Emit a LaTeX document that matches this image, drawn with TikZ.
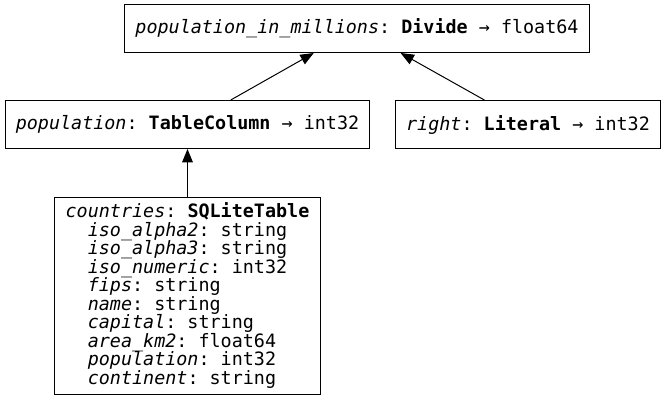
\documentclass[tikz,border=0pt]{standalone}
\usepackage{fontspec}
\setmonofont{DejaVu Sans Mono}
\usetikzlibrary{arrows.meta,positioning}

\tikzset{
  opbox/.style={draw, line width=0.75pt, inner xsep=8pt, minimum height=36pt,
    font=\ttfamily\fontsize{13.8}{13.9}\selectfont},
  dep/.style={-{Triangle[length=10pt,width=8pt]}, line width=0.75pt},
}
\newcommand{\ind}{\phantom{xx}}

\begin{document}
\begin{tikzpicture}[x=0.75pt, y=-0.75pt]
  \useasboundingbox (0,0) rectangle (667,400);
  \node[opbox] (divide) at (357,28.5)
       {\textit{population\_in\_millions}: \textbf{Divide} → float64};
  \node[opbox] (column) at (187.5,124.5)
       {\textit{population}: \textbf{TableColumn} → int32};
  \node[opbox] (literal) at (528,124.5)
       {\textit{right}: \textbf{Literal} → int32};
  \node[opbox, align=left, minimum height=147.75pt] (table) at (187.5,295.5)
       {\textit{countries}: \textbf{SQLiteTable}\\
        \ind\textit{iso\_alpha2}: string\\
        \ind\textit{iso\_alpha3}: string\\
        \ind\textit{iso\_numeric}: int32\\
        \ind\textit{fips}: string\\
        \ind\textit{name}: string\\
        \ind\textit{capital}: string\\
        \ind\textit{area\_km2}: float64\\
        \ind\textit{population}: int32\\
        \ind\textit{continent}: string};
  \draw[dep] (column) -- (divide);
  \draw[dep] (literal) -- (divide);
  \draw[dep] (table) -- (column);
\end{tikzpicture}
\end{document}
